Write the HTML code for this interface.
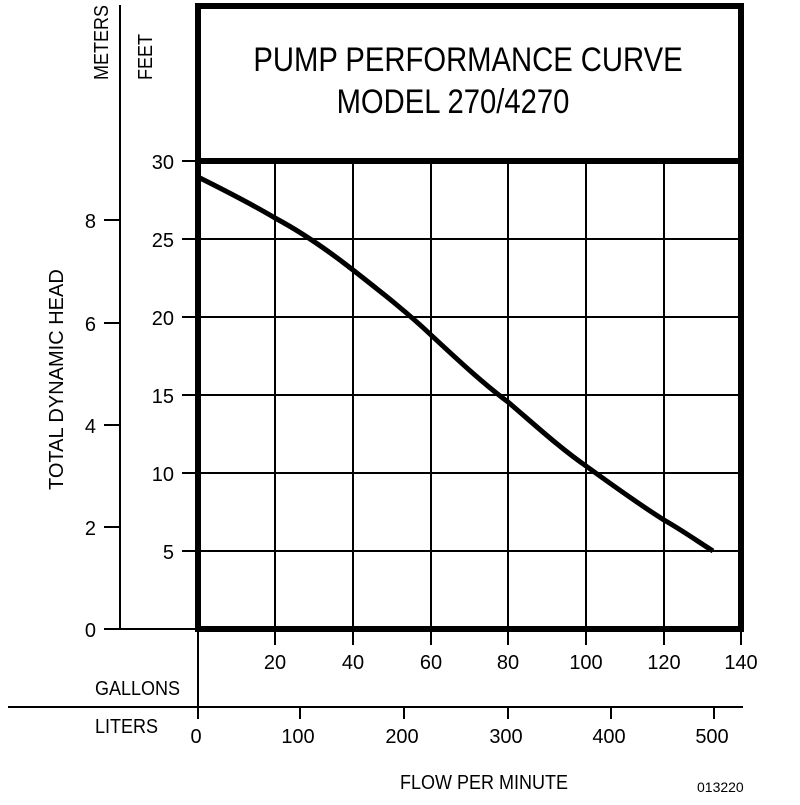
<!DOCTYPE html>
<html><head><style>body{margin:0;background:#fff}svg text{font-family:"Liberation Sans",Arial,sans-serif;fill:#000}</style></head>
<body>
<svg width="800" height="800" viewBox="0 0 800 800" xmlns="http://www.w3.org/2000/svg">
<g stroke="#000" stroke-width="2" fill="none">
<line x1="120" y1="5" x2="120" y2="629"/>
<line x1="104" y1="629" x2="198" y2="629"/>
<line x1="104" y1="220" x2="120" y2="220"/>
<line x1="104" y1="323" x2="120" y2="323"/>
<line x1="104" y1="425" x2="120" y2="425"/>
<line x1="104" y1="527" x2="120" y2="527"/>
<line x1="182" y1="161" x2="741" y2="161"/>
<line x1="182" y1="239" x2="741" y2="239"/>
<line x1="182" y1="317" x2="741" y2="317"/>
<line x1="182" y1="395" x2="741" y2="395"/>
<line x1="182" y1="473" x2="741" y2="473"/>
<line x1="182" y1="551" x2="741" y2="551"/>
<line x1="275" y1="161" x2="275" y2="645"/>
<line x1="353" y1="161" x2="353" y2="645"/>
<line x1="431" y1="161" x2="431" y2="645"/>
<line x1="508" y1="161" x2="508" y2="645"/>
<line x1="586" y1="161" x2="586" y2="645"/>
<line x1="664" y1="161" x2="664" y2="645"/>
<line x1="741" y1="629" x2="741" y2="645"/>
<line x1="198" y1="629" x2="198" y2="719"/>
<line x1="8" y1="707" x2="743" y2="707"/>
<line x1="300" y1="707" x2="300" y2="719"/>
<line x1="404" y1="707" x2="404" y2="719"/>
<line x1="508" y1="707" x2="508" y2="719"/>
<line x1="611" y1="707" x2="611" y2="719"/>
<line x1="714" y1="707" x2="714" y2="719"/>
</g>
<g stroke="#000" stroke-width="6" fill="none">
<rect x="198" y="6" width="543" height="623"/>
<line x1="198" y1="161" x2="741" y2="161"/>
<path d="M198,177 C240,198 265,212 275,218 C305,234 330,252 353,270 C385,295 410,315 431,335 C460,362 485,385 508,402 C535,425 560,448 586,466 C615,487 640,505 664,520 C685,532 700,543 713,551" stroke-width="5"/>
</g>
<g font-size="34" text-anchor="middle">
<text x="468" y="71" transform="translate(468 0) scale(0.86 1) translate(-468 0)">PUMP PERFORMANCE CURVE</text>
<text x="453" y="113" transform="translate(453 0) scale(0.86 1) translate(-453 0)">MODEL 270/4270</text>
</g>
<g font-size="20" text-anchor="end">
<text x="174" y="169">30</text><text x="174" y="247">25</text><text x="174" y="325">20</text>
<text x="174" y="403">15</text><text x="174" y="481">10</text><text x="174" y="559">5</text>
<text x="96" y="228">8</text><text x="96" y="331">6</text><text x="96" y="433">4</text>
<text x="96" y="535">2</text><text x="96" y="637">0</text>
</g>
<g font-size="20" text-anchor="middle">
<text x="275" y="669">20</text><text x="353" y="669">40</text><text x="431" y="669">60</text>
<text x="508" y="669">80</text><text x="586" y="669">100</text><text x="664" y="669">120</text><text x="741" y="669">140</text>
<text x="196" y="743">0</text><text x="298" y="743">100</text><text x="402" y="743">200</text>
<text x="506" y="743">300</text><text x="609" y="743">400</text><text x="712" y="743">500</text>
<text x="484" y="789" transform="translate(484 0) scale(0.9 1) translate(-484 0)">FLOW PER MINUTE</text>
</g>
<text x="95" y="695" font-size="20" transform="translate(95 0) scale(0.9 1) translate(-95 0)">GALLONS</text>
<text x="95" y="733" font-size="20" transform="translate(95 0) scale(0.9 1) translate(-95 0)">LITERS</text>
<text x="697" y="792" font-size="14">013220</text>
<text transform="translate(108 80) rotate(-90) scale(0.9 1)" font-size="20">METERS</text>
<text transform="translate(152 80) rotate(-90) scale(0.9 1)" font-size="20">FEET</text>
<text transform="translate(63 490) rotate(-90)" font-size="20">TOTAL DYNAMIC HEAD</text>
</svg>
</body></html>
